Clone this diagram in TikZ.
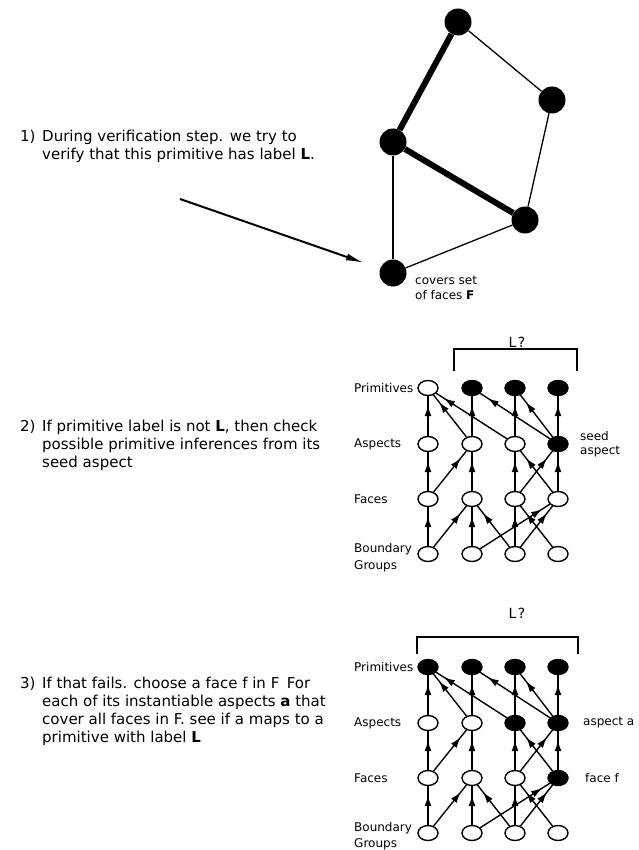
\documentclass[tikz,border=0pt]{standalone}
\usepackage{fontspec}
\setmainfont{DejaVu Sans}
\usetikzlibrary{arrows.meta,shapes.geometric,decorations.markings}

\newcommand\bodyfont{\fontsize{15}{18}\selectfont}
\newcommand\labfont{\fontsize{12}{15}\selectfont}
\newcommand\notefont{\fontsize{12}{14.5}\selectfont}

\tikzset{
  txt/.style={anchor=base west, inner sep=0pt, font=\bodyfont},
  lab/.style={anchor=west, inner sep=0pt, font=\labfont},
  note/.style={anchor=base west, inner sep=0pt, font=\notefont},
  query/.style={inner sep=0pt, font=\fontsize{14}{16}\selectfont},
  gdot/.style={circle, fill=black, minimum size=27pt, inner sep=0pt},
  thinedge/.style={line width=1.3pt},
  thickedge/.style={line width=6pt},
  pointer/.style={line width=2pt, shorten >=17pt, -{Latex[length=18pt,width=7pt]}},
  cell/.style={ellipse, draw, line width=1.4pt, minimum width=20pt, minimum height=15pt, inner sep=0pt},
  climb/.style={line width=1.4pt, postaction={decorate},
    decoration={markings, mark=at position -9pt with {\arrow{Latex[length=11pt,width=7pt]}}}},
  bracket/.style={line width=1.3pt},
}

\begin{document}
\begin{tikzpicture}[x=1pt,y=-1pt]
\useasboundingbox (0,0) rectangle (638,850);

% ---------- step 1: primitive graph ----------
\node[txt] (n1) at (20,142) {1)};
\node[txt] (t1a) at (42,142) {During verification step. we try to};
\node[txt] (t1b) at (42,160) {verify that this primitive has label \textbf{L}.};

\node[gdot] (ga) at (458,22) {};
\node[gdot] (gb) at (552,100) {};
\node[gdot] (gc) at (393,142) {};
\node[gdot] (gd) at (525,220) {};
\node[gdot] (ge) at (393,273) {};

\draw[thickedge] (gc) -- (ga);
\draw[thickedge] (gc) -- (gd);
\draw[thinedge] (ga) -- (gb);
\draw[thinedge] (gb) -- (gd);
\draw[thinedge] (gd) -- (ge);
\draw[thinedge] (gc) -- (ge);

\coordinate (tail) at (180,199);
\draw[pointer] (tail) -- (ge);

\node[note] (cov1) at (415,284) {covers set};
\node[note] (cov2) at (415,299) {of faces \textbf{F}};

% ---------- step 2: seed aspect ----------
\node[txt] (n2) at (20,431) {2)};
\node[txt] (t2a) at (42,431) {If primitive label is not \textbf{L}, then check};
\node[txt] (t2b) at (42,449) {possible primitive inferences from its};
\node[txt] (t2c) at (42,467) {seed aspect};

\node[query] (q2) at (517,342) {L\kern1.5pt?};
\draw[bracket] (454,371) -- (454,349) -- (577,349) -- (577,371);

\node[lab] (s-lp) at (354,388) {Primitives};
\node[lab] (s-la) at (354,444) {Aspects};
\node[lab] (s-lf) at (354,499) {Faces};
\node[lab] (s-lb1) at (354,549) {Boundary};
\node[lab] (s-lb2) at (354,566) {Groups};

\foreach \i/\x/\cp/\ca in {1/428/white/white,2/472/black/white,3/515/black/white,4/558/black/black} {
  \node[cell,fill=\cp] (s-p\i) at (\x,388) {};
  \node[cell,fill=\ca] (s-a\i) at (\x,444) {};
  \node[cell,fill=white] (s-f\i) at (\x,499) {};
  \node[cell,fill=white] (s-b\i) at (\x,554) {};
}

\node[lab] (seed1) at (580,436) {seed};
\node[lab] (seed2) at (580,452) {aspect};

\foreach \s/\t in {a1/p1,a2/p1,a3/p1,a2/p2,a4/p2,a3/p3,a4/p3,a4/p4,
                   f1/a1,f1/a2,f2/a2,f3/a3,f4/a3,f3/a4,f4/a4,
                   b1/f1,b1/f2,b2/f2,b3/f2,b2/f4,b3/f3,b3/f4,b4/f3}
  \draw[climb] (s-\s) -- (s-\t);

% ---------- step 3: face f and aspect a ----------
\node[txt] (n3) at (20,688) {3)};
\node[txt] (t3a) at (42,688) {If that fails. choose a face f in F\enspace For};
\node[txt] (t3b) at (42,706) {each of its instantiable aspects \textbf{a} that};
\node[txt] (t3c) at (42,724) {cover all faces in F. see if a maps to a};
\node[txt] (t3d) at (42,742) {primitive with label \textbf{L}};

\node[query] (q3) at (517,613) {L\kern1.5pt?};
\draw[bracket] (417,654) -- (417,637) -- (578,637) -- (578,654);

\node[lab] (t-lp) at (354,667) {Primitives};
\node[lab] (t-la) at (354,723) {Aspects};
\node[lab] (t-lf) at (354,778) {Faces};
\node[lab] (t-lb1) at (354,828) {Boundary};
\node[lab] (t-lb2) at (354,844) {Groups};

\foreach \i/\x/\ca/\cf in {1/428/white/white,2/472/white/white,3/515/black/white,4/558/black/black} {
  \node[cell,fill=black] (t-p\i) at (\x,667) {};
  \node[cell,fill=\ca] (t-a\i) at (\x,723) {};
  \node[cell,fill=\cf] (t-f\i) at (\x,778) {};
  \node[cell,fill=white] (t-b\i) at (\x,833) {};
}

\node[lab] (asp) at (583,723) {aspect a};
\node[lab] (fac) at (585,778) {face f};

\foreach \s/\t in {a1/p1,a2/p1,a3/p1,a2/p2,a4/p2,a3/p3,a4/p3,a4/p4,
                   f1/a1,f1/a2,f2/a2,f3/a3,f4/a3,f3/a4,f4/a4,
                   b1/f1,b1/f2,b2/f2,b3/f2,b2/f4,b3/f3,b3/f4,b4/f3}
  \draw[climb] (t-\s) -- (t-\t);

\end{tikzpicture}
\end{document}
